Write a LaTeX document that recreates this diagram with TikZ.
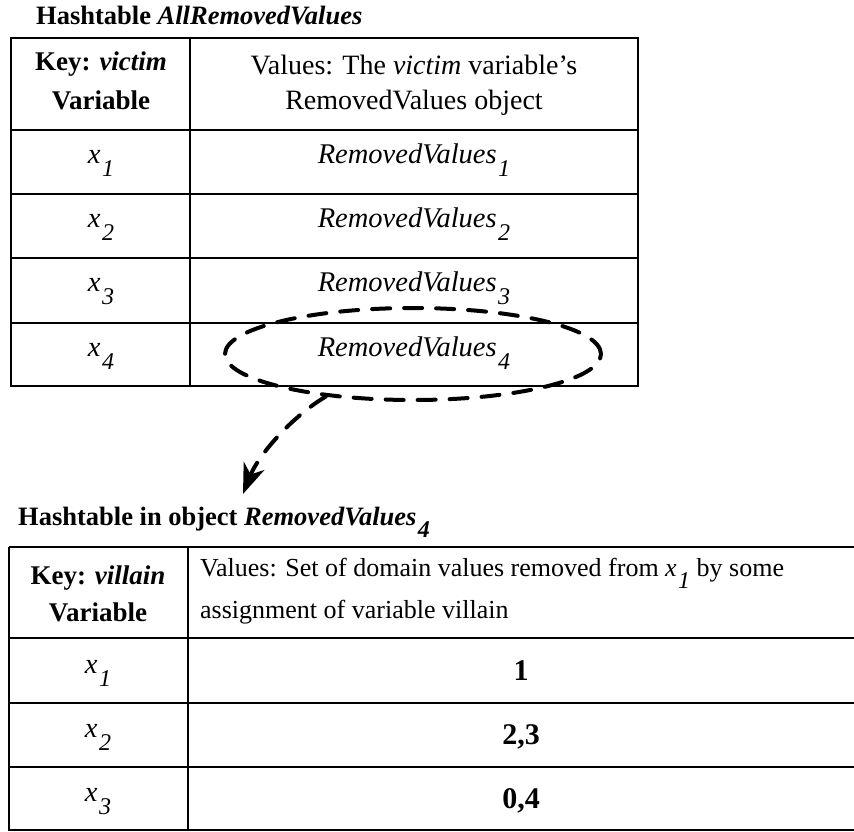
\documentclass[tikz,border=0pt]{standalone}
\usepackage{fontspec}
\setmainfont{Liberation Serif}
\usetikzlibrary{arrows.meta,shapes.geometric}
% lowered index written after a name, e.g. x_1, RemovedValues_4
\newcommand\lowsub[1]{\kern1.5pt\raisebox{-0.48em}{\fontsize{24}{24}\selectfont #1}}
\begin{document}
\begin{tikzpicture}[x=1pt,y=-1pt,
  rule/.style={line width=2.6pt},
  txt/.style={font=\fontsize{28}{32}\selectfont, inner sep=0pt, anchor=base},
  keytxt/.style={font=\fontsize{27}{32}\selectfont\bfseries, inner sep=0pt, anchor=base},
  itxt/.style={font=\fontsize{28.5}{32}\selectfont\itshape, inner sep=0pt, anchor=base},
  ttl/.style={font=\fontsize{26.5}{30}\selectfont\bfseries, inner sep=0pt, anchor=base west},
  valtxt/.style={font=\fontsize{30}{32}\selectfont\bfseries, inner sep=0pt, anchor=base},
  ring/.style={draw, ellipse, line width=4pt, dash pattern=on 18pt off 14pt,
    line cap=round, minimum width=376pt, minimum height=92pt, inner sep=0pt},
  link/.style={line width=4pt, dash pattern=on 18pt off 14pt, line cap=round,
    -{Stealth[length=30pt,width=22pt,inset=9pt]}}
]
\useasboundingbox (0,0) rectangle (854,831);

% ---------- Hashtable AllRemovedValues ----------
\node[ttl] (t1) at (36,24) {Hashtable \textit{AllRemovedValues}};

\draw[rule] (11,38) rectangle (638,386);
\draw[rule] (190,38) -- (190,386);
\foreach \yy in {130,194,258,323} \draw[rule] (11,\yy) -- (638,\yy);

\node[keytxt] (k1a) at (101,70) {Key: \textit{victim}};
\node[keytxt] (k1b) at (101,109) {Variable};
\node[txt] (v1a) at (414,74) {Values: The \textit{victim} variable’s};
\node[txt] (v1b) at (414,109) {RemovedValues object};

\foreach \i/\yy in {1/163,2/227,3/291,4/356}{
  \node[itxt] (ka\i) at (101,\yy) {x\lowsub{\i}};
  \node[itxt] (va\i) at (414,\yy) {RemovedValues\lowsub{\i}};
}

\node[ring] (ell) at (413,354) {};
\coordinate (tip) at (243,494);
\draw[link] (ell.206) .. controls (290,418) and (258,456) .. (tip);

% ---------- Hashtable in object RemovedValues_4 ----------
\node[ttl] (t2) at (18,525) {Hashtable in object \textit{RemovedValues}\lowsub{\textbf{\textit{4}}}};

\draw[rule] (9,547) -- (854,547);
\draw[rule] (9,547) -- (9,831);
\draw[rule] (188,547) -- (188,831);
\foreach \yy in {638,703,767,830} \draw[rule] (9,\yy) -- (854,\yy);

\node[keytxt] (k2a) at (98,584) {Key: \textit{villain}};
\node[keytxt] (k2b) at (98,621) {Variable};
\node[txt,font=\fontsize{26}{30}\selectfont,anchor=base west] (v2a) at (200,576) {Values: Set of domain values removed from \textit{x}\lowsub{\textit{1}} by some};
\node[txt,font=\fontsize{26}{30}\selectfont,anchor=base west] (v2b) at (200,618) {assignment of variable villain};

\foreach \i/\yy/\vv in {1/673/1,2/737/{2,3},3/801/{0,4}}{
  \node[itxt] (kb\i) at (98,\yy) {x\lowsub{\i}};
  \node[valtxt] (vb\i) at (521,\yy+7) {\vv};
}
\end{tikzpicture}
\end{document}
